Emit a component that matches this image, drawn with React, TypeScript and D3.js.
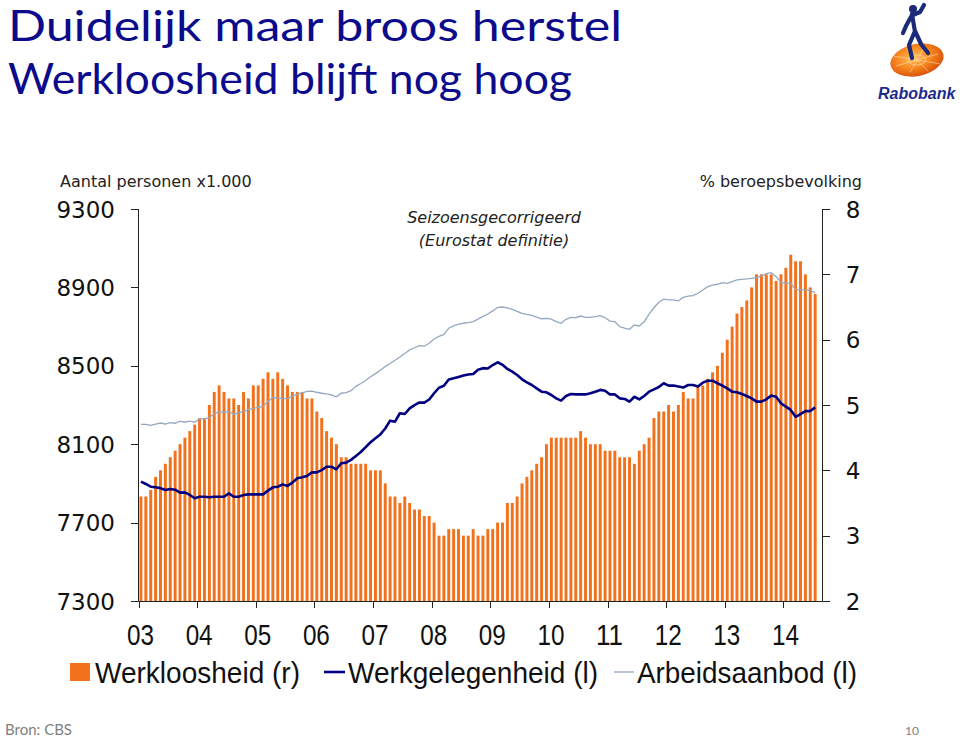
import React from 'react';
import * as d3 from 'd3';

// Werkloosheid (% beroepsbevolking), monthly Jan 2003 - Jul 2014
const werkloosheid = [
  3.6, 3.6, 3.7, 3.9, 4.0, 4.1, 4.2, 4.3, 4.4, 4.5, 4.6, 4.7, 4.8, 4.8, 5.0,
  5.2, 5.3, 5.2, 5.1, 5.1, 5.0, 5.2, 5.1, 5.3, 5.3, 5.4, 5.5, 5.4, 5.5, 5.4, 5.3, 5.2, 5.2, 5.2, 5.1, 5.1,
  4.9, 4.8, 4.6, 4.5, 4.4, 4.2, 4.2, 4.1, 4.1, 4.1, 4.1, 4.0, 4.0, 4.0,
  3.8, 3.6, 3.6, 3.5, 3.6, 3.5, 3.4, 3.4, 3.3, 3.3, 3.2, 3.0, 3.0, 3.1, 3.1, 3.1, 3.0, 3.0, 3.1, 3.0, 3.0,
  3.1, 3.1, 3.2, 3.2, 3.5, 3.5, 3.6, 3.8, 3.9, 4.0, 4.1, 4.2, 4.4, 4.5, 4.5, 4.5, 4.5, 4.5, 4.5,
  4.6, 4.5, 4.4, 4.4, 4.4, 4.3, 4.3, 4.3, 4.2, 4.2, 4.2, 4.1, 4.3, 4.4, 4.5,
  4.8, 4.9, 4.9, 5.0, 4.9, 5.0, 5.2, 5.1, 5.1, 5.3, 5.3, 5.4, 5.5, 5.6, 5.8, 6.0, 6.2, 6.4, 6.5, 6.6,
  6.8, 7.0, 7.0, 7.0, 7.0, 6.9, 7.0, 7.1, 7.3, 7.2, 7.2, 7.0, 6.8, 6.7,
];

// Werkgelegenheid (x1.000 personen)
const werkgelegenheid = [
  7909, 7897, 7883, 7880, 7876, 7866, 7871, 7868, 7853, 7854, 7841, 7824,
  7832, 7832, 7829, 7832, 7832, 7832, 7849, 7832, 7832, 7841, 7844, 7844,
  7844, 7844, 7863, 7880, 7883, 7895, 7887, 7904, 7926, 7931, 7938, 7956,
  7956, 7968, 7985, 7985, 7972, 8003, 8006, 8020, 8040, 8060, 8085, 8110,
  8130, 8150, 8180, 8220, 8215, 8258, 8254, 8283, 8299, 8313, 8312, 8328,
  8360, 8388, 8398, 8430, 8436, 8443, 8450, 8456, 8458, 8480, 8488, 8486,
  8504, 8518, 8505, 8484, 8470, 8453, 8431, 8416, 8402, 8385, 8368, 8365,
  8351, 8334, 8322, 8346, 8356, 8354, 8354, 8354, 8360, 8368, 8377, 8373,
  8354, 8354, 8334, 8331, 8317, 8342, 8329, 8346, 8368, 8380, 8392, 8411,
  8399, 8399, 8394, 8389, 8402, 8402, 8394, 8414, 8424, 8424, 8411, 8399,
  8385, 8368, 8365, 8356, 8346, 8334, 8317, 8317, 8329, 8348, 8342, 8309,
  8292, 8275, 8240, 8254, 8269, 8269, 8288,
];

// Arbeidsaanbod (x1.000 personen)
const arbeidsaanbod = [
  8201, 8201, 8196, 8203, 8208, 8203, 8210, 8207, 8218, 8212, 8218, 8212,
  8229, 8229, 8235, 8256, 8266, 8263, 8266, 8253, 8261, 8266, 8276, 8283,
  8288, 8293, 8318, 8338, 8337, 8334, 8332, 8345, 8354, 8362, 8370, 8371,
  8365, 8360, 8357, 8352, 8342, 8360, 8363, 8373, 8395, 8410, 8425, 8444,
  8460, 8477, 8496, 8512, 8528, 8545, 8563, 8581, 8592, 8603, 8600, 8615,
  8637, 8650, 8660, 8692, 8704, 8713, 8717, 8720, 8725, 8738, 8752, 8764,
  8780, 8798, 8800, 8795, 8788, 8778, 8768, 8762, 8757, 8748, 8740, 8742,
  8738, 8725, 8717, 8737, 8747, 8746, 8754, 8747, 8747, 8751, 8756, 8745,
  8728, 8725, 8700, 8692, 8686, 8708, 8703, 8725, 8764, 8796, 8824, 8840,
  8836, 8836, 8831, 8849, 8856, 8858, 8870, 8887, 8904, 8912, 8916, 8924,
  8921, 8929, 8938, 8941, 8943, 8946, 8951, 8958, 8970, 8975, 8955, 8926,
  8921, 8921, 8890, 8887, 8887, 8883, 8873,
];

const yearLabels = ['03', '04', '05', '06', '07', '08', '09', '10', '11', '12', '13', '14'];
const leftTicks = [7300, 7700, 8100, 8500, 8900, 9300];
const rightTicks = [2, 3, 4, 5, 6, 7, 8];

const ORANGE = '#F2711C';
const NAVY = '#000080';
const LIGHT = '#95A8C0';
const TITLE = '#0B0B8C';

export default function App() {
  const slots = d3.range(140);
  const x = d3.scaleBand<number>().domain(slots).range([138.5, 822.5]).paddingInner(0.4).paddingOuter(0.2);
  const xm = d3.scaleLinear().domain([0, 140]).range([138.5, 822.5]);
  const yL = d3.scaleLinear().domain([7300, 9300]).range([601, 209]);
  const yR = d3.scaleLinear().domain([2, 8]).range([601, 209]);
  const cx = (i: number) => (x(i) as number) + x.bandwidth() / 2;

  const lineL = d3.line<number>().x((_, i) => cx(i)).y((d) => yL(d));

  const narrow = "'Liberation Sans Narrow', 'Arial Narrow', 'Liberation Sans', sans-serif";
  const verdana = "'DejaVu Sans', Verdana, sans-serif";

  const legendY = 683;

  return (
    <svg width={960} height={737} style={{ position: 'absolute', left: 0, top: 0, background: '#fff' }}>
      <defs>
        <radialGradient id="disc" cx="45%" cy="40%" r="60%">
          <stop offset="0%" stopColor="#FFC060" />
          <stop offset="55%" stopColor="#F7871E" />
          <stop offset="100%" stopColor="#D9520A" />
        </radialGradient>
      </defs>
      <rect x={0} y={0} width={960} height={737} fill="#fff" />

      {/* Titles */}
      <text x={8} y={41} fontFamily="Lato, 'Open Sans', sans-serif" fontSize={43} fill={TITLE} textLength={614} lengthAdjust="spacingAndGlyphs">
        Duidelijk maar broos herstel
      </text>
      <text x={8} y={94} fontFamily="Lato, 'Open Sans', sans-serif" fontSize={43} fill={TITLE} textLength={564} lengthAdjust="spacingAndGlyphs">
        Werkloosheid blijft nog hoog
      </text>

      {/* Logo */}
      <g>
        <ellipse cx={917} cy={60} rx={27} ry={16} fill="url(#disc)" transform="rotate(-12 917 60)" />
        {d3.range(8).map((k) => {
          const a = (k * Math.PI) / 4 + 0.3;
          return (
            <line key={k} x1={917} y1={60} x2={917 + 24 * Math.cos(a)} y2={60 + 13 * Math.sin(a)} stroke="#FFD9A8" strokeWidth={0.8} opacity={0.8} />
          );
        })}
        <ellipse cx={917} cy={60} rx={9} ry={5} fill="none" stroke="#FFD9A8" strokeWidth={0.8} opacity={0.8} />
        <circle cx={913} cy={9} r={4} fill="#1C2A7A" />
        <path d="M912 14 L915 32 M912 15 L906 26 L903 33 M913 15 L920 12 L924 5 M915 31 L909 45 L912 58 M915 31 L921 44 L928 53"
          stroke="#1C2A7A" strokeWidth={4.2} strokeLinecap="round" strokeLinejoin="round" fill="none" />
        <text x={878} y={99} fontFamily="'Liberation Sans', Arial, sans-serif" fontWeight="bold" fontStyle="italic" fontSize={16} fill="#1B2A8C">
          Rabobank
        </text>
      </g>

      {/* Axis titles */}
      <text x={60} y={187} fontFamily={verdana} fontSize={16} fill="#222">Aantal personen x1.000</text>
      <text x={862} y={187} fontFamily={verdana} fontSize={16} fill="#222" textAnchor="end">% beroepsbevolking</text>

      {/* Annotation */}
      <text x={494} y={223} fontFamily={verdana} fontStyle="italic" fontSize={16} fill="#222" textAnchor="middle">Seizoensgecorrigeerd</text>
      <text x={494} y={246} fontFamily={verdana} fontStyle="italic" fontSize={16} fill="#222" textAnchor="middle">(Eurostat definitie)</text>

      {/* Bars */}
      <g>
        {werkloosheid.map((v, i) => (
          <rect key={i} x={x(i)} y={yR(v)} width={x.bandwidth()} height={yR(2) - yR(v)} fill={ORANGE} />
        ))}
      </g>

      {/* Lines */}
      <path d={lineL(arbeidsaanbod) || ''} fill="none" stroke={LIGHT} strokeWidth={1.3} />
      <path d={lineL(werkgelegenheid) || ''} fill="none" stroke={NAVY} strokeWidth={2.6} strokeLinejoin="round" />

      {/* Axes */}
      <g stroke="#222" strokeWidth={1}>
        <line x1={138.5} y1={209} x2={138.5} y2={601} />
        <line x1={822.5} y1={209} x2={822.5} y2={601} />
        <line x1={138.5} y1={601.5} x2={822.5} y2={601.5} />
        {leftTicks.map((t) => (
          <line key={t} x1={131} x2={138.5} y1={Math.round(yL(t)) + 0.5} y2={Math.round(yL(t)) + 0.5} />
        ))}
        {rightTicks.map((t) => (
          <line key={t} x1={822.5} x2={830} y1={Math.round(yR(t)) + 0.5} y2={Math.round(yR(t)) + 0.5} />
        ))}
        {yearLabels.map((_, k) => (
          <line key={k} x1={Math.round(xm(k * 12)) + 0.5} x2={Math.round(xm(k * 12)) + 0.5} y1={601} y2={608} />
        ))}
      </g>

      {/* Left tick labels */}
      {leftTicks.map((t) => (
        <text key={t} x={115} y={yL(t) + 8.5} fontFamily={verdana} fontSize={23} fill="#111" textAnchor="end">{t}</text>
      ))}
      {/* Right tick labels */}
      {rightTicks.map((t) => (
        <text key={t} x={853} y={yR(t) + 8.5} fontFamily={verdana} fontSize={23} fill="#111" textAnchor="middle">{t}</text>
      ))}
      {/* Year labels */}
      {yearLabels.map((l, k) => (
        <text key={l} x={xm(k * 12) + 2} y={645} fontFamily={narrow} fontSize={29} fill="#111" textAnchor="middle" textLength={27} lengthAdjust="spacingAndGlyphs">{l}</text>
      ))}

      {/* Legend */}
      <rect x={70} y={663} width={20} height={18} fill={ORANGE} />
      <text x={95} y={legendY} fontFamily={narrow} fontSize={29} fill="#111" textLength={205} lengthAdjust="spacingAndGlyphs">Werkloosheid (r)</text>
      <line x1={324} x2={345} y1={672} y2={672} stroke={NAVY} strokeWidth={2.6} />
      <text x={348} y={legendY} fontFamily={narrow} fontSize={29} fill="#111" textLength={250} lengthAdjust="spacingAndGlyphs">Werkgelegenheid (l)</text>
      <line x1={614} x2={634} y1={672} y2={672} stroke={LIGHT} strokeWidth={1.3} />
      <text x={637} y={legendY} fontFamily={narrow} fontSize={29} fill="#111" textLength={220} lengthAdjust="spacingAndGlyphs">Arbeidsaanbod (l)</text>

      {/* Footer */}
      <text x={5} y={735} fontFamily="Lato, 'Open Sans', sans-serif" fontSize={15} fill="#808080">Bron: CBS</text>
      <text x={919} y={735} fontFamily="Lato, 'Open Sans', sans-serif" fontSize={12} fill="#808080" textAnchor="end">10</text>
    </svg>
  );
}
